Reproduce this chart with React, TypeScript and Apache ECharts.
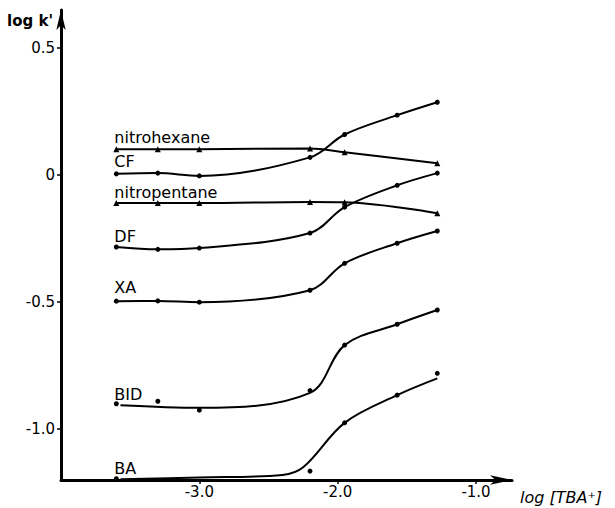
import React, { useEffect, useRef } from "react";
import * as echarts from "echarts";

// measured points (x = log [TBA+])
const xValues = [-3.6, -3.3, -3.0, -2.2, -1.95, -1.57, -1.28];

const nitrohexane = [0.102, 0.102, 0.102, 0.105, 0.09, null, 0.047];
const cf = [0.005, 0.008, -0.003, 0.07, 0.16, 0.236, 0.287];
const nitropentane = [-0.11, -0.11, -0.11, -0.106, -0.107, null, -0.15];
const df = [-0.283, -0.292, -0.287, -0.228, -0.126, -0.04, 0.008];
const xa = [-0.496, -0.495, -0.5, -0.453, -0.347, -0.268, -0.22];
const bid = [-0.9, -0.89, -0.925, -0.848, -0.669, -0.587, -0.531];
const ba = [-1.195, null, null, -1.165, -0.975, -0.866, -0.78];

// drawn (fitted) curves that do not pass through every point
const bidCurveX = [-3.57, -3.0, -2.2, -1.95, -1.57, -1.28];
const bidCurve = [-0.906, -0.916, -0.857, -0.669, -0.587, -0.531];
const baCurveX = [-3.57, -3.0, -2.4, -2.25, -1.95, -1.57, -1.28];
const baCurve = [-1.197, -1.19, -1.18, -1.15, -0.975, -0.866, -0.8];

const seriesNames = ["nitrohexane", "CF", "nitropentane", "DF", "XA", "BID", "BA"];
const seriesValues = [nitrohexane, cf, nitropentane, df, xa, bid, ba];
const labelDistances = [1, 2, 0, 0, 3, -1, 0];
const seriesSymbols = ["triangle", "circle", "triangle", "circle", "circle", "circle", "circle"];

const xTicks = [-3, -2, -1];
const yTicks = [-1, -0.5, 0, 0.5];

const FONT = "DejaVu Sans";

export default function App() {
  const ref = useRef<HTMLDivElement>(null);
  useEffect(() => {
    if (!ref.current) return;
    const chart = echarts.init(ref.current, null, { renderer: "svg" });
    const series: any[] = [];
    seriesNames.forEach((name, si) => {
      const ys = seriesValues[si];
      const pts: number[][] = [];
      xValues.forEach((x, i) => {
        const y = ys[i];
        if (y === null || y === undefined) return;
        pts.push([x, y]);
      });
      let curve: number[][] = pts;
      if (name === "BID") curve = bidCurveX.map((x, i) => [x, bidCurve[i]]);
      if (name === "BA") curve = baCurveX.map((x, i) => [x, baCurve[i]]);
      series.push({
        type: "line",
        name: name + " curve",
        data: curve,
        smooth: 0.35,
        showSymbol: false,
        symbol: "none",
        lineStyle: { color: "#000", width: 2 },
        z: 2,
      });
      series.push({
        type: "scatter",
        name,
        symbol: seriesSymbols[si],
        symbolSize: seriesSymbols[si] === "triangle" ? 6 : 5,
        itemStyle: { color: "#000", opacity: 1 },
        z: 3,
        data: pts.map((p, i) =>
          i === 0
            ? {
                value: p,
                label: {
                  show: true,
                  formatter: name,
                  position: "top",
                  align: "left",
                  offset: [-2, 0],
                  distance: labelDistances[si],
                  color: "#000",
                  opacity: 1,
                  fontFamily: FONT,
                  fontSize: 16,
                },
              }
            : { value: p }
        ),
      });
    });
    chart.setOption({
      animation: false,
      backgroundColor: "#fff",
      grid: { left: 61, right: 103, top: 10, bottom: 28 },
      xAxis: {
        type: "value",
        min: -4,
        max: -0.74,
        axisLine: {
          show: true,
          onZero: false,
          lineStyle: { color: "#000", width: 3 },
          symbol: ["none", "arrow"],
          symbolSize: [7, 22],
        },
        axisTick: { show: true, customValues: xTicks, length: 4, lineStyle: { color: "#000", width: 1.5 } },
        axisLabel: {
          customValues: xTicks,
          formatter: (v: number) => v.toFixed(1),
          color: "#000",
          fontFamily: FONT,
          fontSize: 15,
          margin: 4,
        },
        splitLine: { show: false },
      },
      yAxis: {
        type: "value",
        min: -1.2,
        max: 0.65,
        axisLine: {
          show: true,
          onZero: false,
          lineStyle: { color: "#000", width: 3 },
          symbol: ["none", "arrow"],
          symbolSize: [7, 20],
        },
        axisTick: { show: true, customValues: yTicks, length: 4, lineStyle: { color: "#000", width: 1.5 } },
        axisLabel: {
          customValues: yTicks,
          formatter: (v: number) => (v === 0 ? "0" : v.toFixed(1)),
          color: "#000",
          fontFamily: FONT,
          fontSize: 15,
          margin: 6,
        },
        splitLine: { show: false },
      },
      graphic: [
        {
          type: "text",
          left: 7,
          top: 13,
          style: { text: "log k'", fill: "#000", font: `bold 15px "${FONT}"` },
        },
        {
          type: "text",
          left: 520,
          top: 489,
          style: { text: "log [TBA⁺]", fill: "#000", font: `italic 16px "${FONT}"` },
        },
      ],
      series,
    });
    return () => chart.dispose();
  }, []);
  return (
    <div
      ref={ref}
      style={{ position: "fixed", left: 0, top: 0, width: 615, height: 508 }}
    />
  );
}
